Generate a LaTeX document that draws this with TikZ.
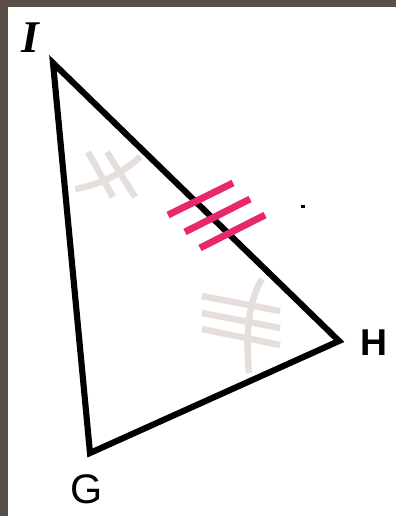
\documentclass[tikz,border=0pt]{standalone}
\usepackage{fontspec}
\setsansfont{Liberation Sans}
\newfontfamily\labelserif{Liberation Serif}
\usepackage{xcolor}
\usepackage{tikz}
\usetikzlibrary{positioning, calc}

\definecolor{frame}{HTML}{5A4E48}
\definecolor{tickpink}{HTML}{E8286E}
\definecolor{markgrey}{HTML}{E5DEDA}

\begin{document}
\begin{tikzpicture}[x=0.75pt, y=-0.75pt,
    side/.style={line width=4.6pt, line join=miter},
    congr/.style={tickpink, line width=5.2pt},
    anglemark/.style={markgrey, line width=4.8pt},
    vlabel/.style={inner sep=0pt}]
    % Frame
    \fill[frame] (0,0) rectangle (396,516);
    \fill[white] (8,7) rectangle (396,516);
    \useasboundingbox (0,0) rectangle (396,516);

    % Vertices
    \coordinate (I) at (53,63);
    \coordinate (H) at (339,341);
    \coordinate (G) at (90,453);

    % Angle marks
    \draw[anglemark] ([shift={(80:128)}]I) arc (80:47:128);
    \draw[anglemark] (88,152) -- (113,197);
    \draw[anglemark] (107,152) -- (135,197);
    \draw[anglemark] (262,279) .. controls (250,298) and (245,330) .. (249,373);
    \draw[anglemark] (202,296) -- (280,311);
    \draw[anglemark] (202,313) -- (280,328);
    \draw[anglemark] (202,329) -- (280,345);

    % Triangle
    \draw[side] (I) -- (H) -- (G) -- cycle;

    % Side ticks
    \draw[congr] (168,215) -- (233,183);
    \draw[congr] (185,232) -- (250,199);
    \draw[congr] (200,248) -- (265,215);

    % Speck
    \fill (301,205) rectangle (305,208);

    % Labels
    \node[vlabel] (lI) at (30,38) {\fontsize{34}{34}\selectfont\labelserif\bfseries\itshape I};
    \node[vlabel] (lH) at (374,343) {\fontsize{28}{28}\selectfont\sffamily\bfseries H};
    \node[vlabel] (lG) at (87,489) {\fontsize{31}{31}\selectfont\sffamily G};
\end{tikzpicture}
\end{document}
